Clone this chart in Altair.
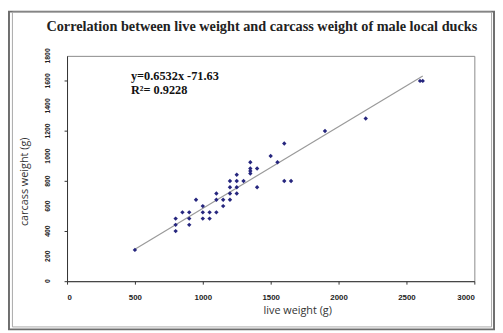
import altair as alt
import pandas as pd

# ---- data ----
live_weight = [500, 800, 800, 800, 850, 900, 900, 900, 950, 1000, 1000, 1000,
               1050, 1050, 1100, 1100, 1100, 1150, 1150, 1200, 1200, 1200, 1200,
               1250, 1250, 1250, 1250, 1300, 1350, 1350, 1350, 1350, 1400, 1400,
               1500, 1550, 1600, 1600, 1650, 1900, 2200, 2600, 2620]
carcass_weight = [250, 500, 450, 400, 550, 550, 500, 450, 650, 600, 550, 500,
                  550, 500, 700, 650, 550, 650, 600, 800, 750, 700, 650,
                  850, 800, 750, 700, 800, 950, 900, 880, 860, 900, 750,
                  1000, 950, 1100, 800, 800, 1200, 1300, 1600, 1600]

slope = 0.6532
intercept = -71.63
eq_line1 = "y=0.6532x -71.63"
eq_line2 = "R\u00b2= 0.9228"
title_text = "Correlation between live weight and carcass weight of male local ducks"
x_title = "live weight (g)"
y_title = "carcass weight (g)"
x_ticks = [0, 500, 1000, 1500, 2000, 2500, 3000]
y_ticks = [0, 200, 400, 600, 800, 1000, 1200, 1400, 1600, 1800]

pts = pd.DataFrame({"live": live_weight, "carcass": carcass_weight})
lx = [min(live_weight), max(live_weight)]
line_df = pd.DataFrame({"live": lx, "carcass": [slope * v + intercept for v in lx]})
ytick_df = pd.DataFrame({"v": y_ticks, "lab": [str(v) for v in y_ticks]})

W, H = 414, 229

x_scale = alt.Scale(domain=[0, 3000], nice=False)
y_scale = alt.Scale(domain=[0, 1800], nice=False)

x_axis = alt.Axis(values=x_ticks, format="d", title=x_title, grid=False,
                  labelFontSize=8, labelFontWeight="bold", labelPadding=10,
                  labelColor="#222", tickSize=3, labelOverlap=False,
                  titleFont="Open Sans", titleFontSize=11, titleFontWeight="normal",
                  titleColor="#333", titleX=234, titleY=33,
                  titleBaseline="alphabetic", titleAlign="center")
y_axis = alt.Axis(values=y_ticks, labels=False, title=None, grid=False, tickSize=3)

line = alt.Chart(line_df).mark_line(color="#9a9a9a", strokeWidth=1.2).encode(
    x=alt.X("live:Q", scale=x_scale, axis=x_axis),
    y=alt.Y("carcass:Q", scale=y_scale, axis=y_axis),
)

points = alt.Chart(pts).mark_point(shape="diamond", filled=True, size=20,
                                   color="#26267e", opacity=1).encode(
    x=alt.X("live:Q", scale=x_scale),
    y=alt.Y("carcass:Q", scale=y_scale),
)

ylabels = alt.Chart(ytick_df).mark_text(font="Liberation Sans", fontWeight="bold",
                                        fontSize=7, angle=270, align="center",
                                        baseline="middle", color="#222").encode(
    x=alt.value(-19),
    y=alt.Y("v:Q", scale=y_scale),
    text="lab:N",
)

one = pd.DataFrame({"a": [0]})
ytitle = alt.Chart(one).mark_text(font="Open Sans", fontSize=11, angle=270,
                                  align="center", baseline="middle",
                                  color="#333", text=y_title).encode(
    x=alt.value(-43), y=alt.value(128))

eq1 = alt.Chart(one).mark_text(font="Liberation Serif", fontWeight="bold",
                               fontSize=12.5, align="left", baseline="middle",
                               color="#111", text=eq_line1).encode(
    x=alt.value(65), y=alt.value(21))
eq2 = alt.Chart(one).mark_text(font="Liberation Serif", fontWeight="bold",
                               fontSize=12.5, align="left", baseline="middle",
                               color="#111", text=eq_line2).encode(
    x=alt.value(65), y=alt.value(35))

title = alt.Chart(one).mark_text(font="Liberation Serif", fontWeight="bold",
                                 fontSize=14.5, align="center",
                                 baseline="alphabetic", color="#222",
                                 text=title_text).encode(
    x=alt.value(198), y=alt.value(-25))

outer = alt.Chart(one).mark_rect(fill="transparent", stroke="#6e6e6e",
                                 strokeWidth=2).encode(
    x=alt.value(-59), x2=alt.value(434), y=alt.value(-45), y2=alt.value(278))
inner = alt.Chart(one).mark_rect(fill="transparent", stroke="#a8a8a8",
                                 strokeWidth=1).encode(
    x=alt.value(-55.5), x2=alt.value(431.5), y=alt.value(-44.5), y2=alt.value(275.5))

chart = alt.layer(outer, inner, title, line, points, ylabels, ytitle, eq1, eq2).properties(
    width=W, height=H,
    autosize=alt.AutoSizeParams(type="none"),
    padding={"left": 60, "top": 46, "right": 21, "bottom": 50},
    background="white",
).configure_view(stroke="#8a8a8a", strokeWidth=1).configure_axis(
    domainColor="#333", tickColor="#333", labelFont="Liberation Sans",
)

chart.save("out.html", embed_options={"renderer": "svg", "actions": False})
